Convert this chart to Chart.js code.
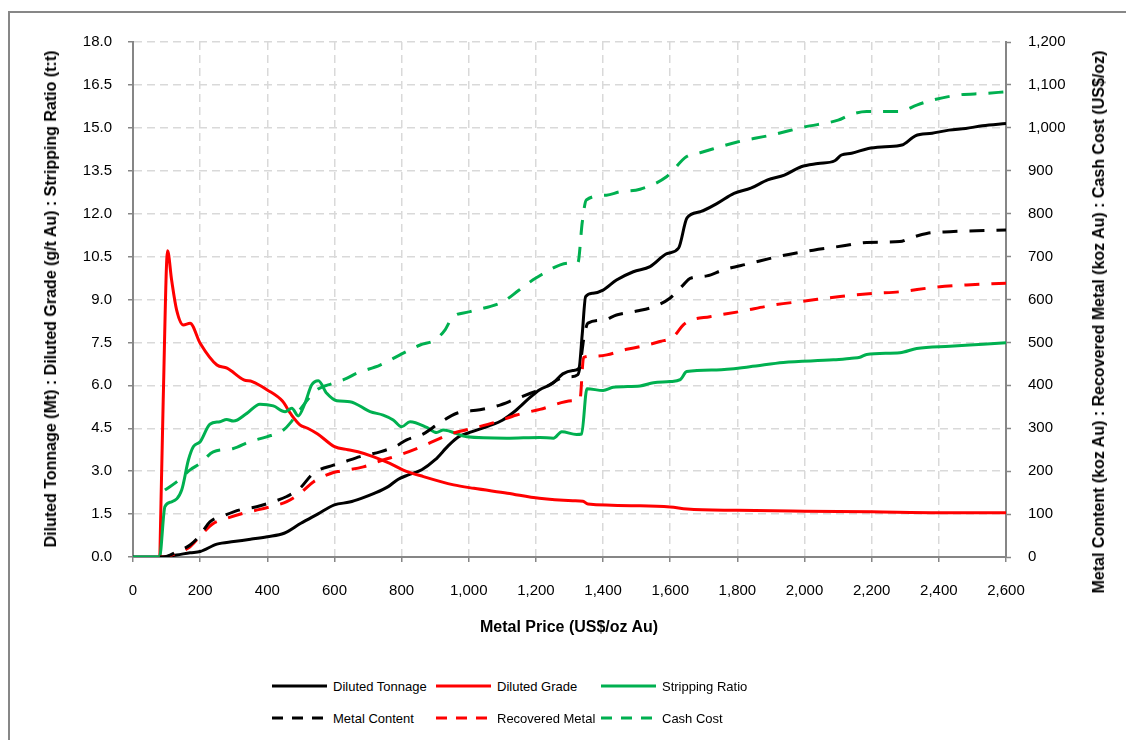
<!DOCTYPE html>
<html>
<head>
<meta charset="utf-8">
<script src="https://cdn.jsdelivr.net/npm/chart.js@4.4.0/dist/chart.umd.min.js"></script>
<style>
  body { margin: 0; background: #fff; width: 1126px; height: 740px; overflow: hidden; position: relative;
         font-family: "Liberation Sans", Arial, sans-serif; }
  #frame { position: absolute; left: 8px; top: 11px; width: 1200px; height: 800px;
           border-left: 2px solid #878787; border-top: 2px solid #878787; }
  #chart { position: absolute; left: 0; top: 0; }
  .atitle { position: absolute; font-weight: bold; color: #000; white-space: nowrap;
            transform: translate(-50%, -50%); }
  .rot { transform: translate(-50%, -50%) rotate(-90deg); }
  .lg { position: absolute; display: flex; align-items: center; height: 16px; font-size: 13px; color: #000; white-space: nowrap; }
  .lg svg { margin-right: 6px; }
</style>
</head>
<body>
<div id="frame"></div>
<canvas id="chart" width="1126" height="645"></canvas>
<div class="atitle rot" style="left:51px;top:299px;font-size:16px;">Diluted Tonnage (Mt) : Diluted Grade (g/t Au) : Stripping Ratio (t:t)</div>
<div class="atitle rot" style="left:1099px;top:322px;font-size:16px;">Metal Content (koz Au) : Recovered Metal (koz Au) : Cash Cost (US$/oz)</div>
<div class="atitle" style="left:569px;top:627px;font-size:16px;">Metal Price (US$/oz Au)</div>
<div id="legend"></div>
<script>
// Diluted Tonnage (Mt) - left axis
const tonPrice = [0, 80, 130, 170, 200, 250, 300, 350, 400, 450, 500, 550, 600, 645, 680, 720, 760, 790, 820, 860,
  900, 940, 970, 1010, 1060, 1100, 1140, 1180, 1210, 1250, 1280, 1310, 1328, 1338, 1348, 1370, 1400, 1440, 1490, 1540,
  1590, 1625, 1650, 1690, 1740, 1790, 1840, 1890, 1940, 1990, 2040, 2090, 2110, 2140, 2190, 2240, 2290, 2330, 2380, 2430,
  2480, 2530, 2600];
const tonVal = [0, 0, 0.07, 0.15, 0.19, 0.45, 0.54, 0.62, 0.71, 0.83, 1.18, 1.5, 1.82, 1.92, 2.05, 2.23, 2.46, 2.72, 2.87, 3.05,
  3.4, 3.9, 4.2, 4.38, 4.58, 4.78, 5.12, 5.55, 5.84, 6.07, 6.4, 6.52, 6.6, 7.8, 9.1, 9.22, 9.33, 9.68, 9.97, 10.15,
  10.6, 10.8, 11.85, 12.07, 12.36, 12.71, 12.89, 13.18, 13.35, 13.64, 13.75, 13.85, 14.05, 14.11, 14.28, 14.34, 14.4, 14.72, 14.81, 14.92,
  14.98, 15.07, 15.15];

// Diluted Grade (g/t Au) - left axis
const gradePrice = [80, 90, 103, 115, 130, 150, 170, 200, 250, 280, 330, 355, 400, 445, 470, 497, 520, 550, 600, 640,
  670, 715, 765, 805, 865, 955, 1015, 1115, 1210, 1310, 1340, 1355, 1510, 1600, 1650, 1800, 2000, 2200, 2400, 2600];
const gradeVal = [0, 5.5, 10.7, 9.68, 8.63, 8.11, 8.17, 7.47, 6.71, 6.6, 6.19, 6.13, 5.84, 5.45, 5.0, 4.62, 4.5, 4.3, 3.86, 3.75,
  3.68, 3.51, 3.27, 3.04, 2.81, 2.52, 2.4, 2.23, 2.05, 1.97, 1.95, 1.85, 1.79, 1.75, 1.68, 1.63, 1.6, 1.58, 1.55, 1.55];

// Stripping Ratio (t:t) - left axis
const stripPrice = [0, 79, 95, 115, 145, 165, 180, 200, 229, 259, 279, 299, 339, 378, 418, 453, 473, 492, 512, 532,
  552, 577, 607, 646, 706, 745, 775, 800, 825, 875, 904, 924, 994, 1113, 1212, 1252, 1277, 1321, 1336, 1352,
  1400, 1430, 1510, 1550, 1599, 1630, 1649, 1738, 1837, 1937, 2086, 2140, 2165, 2185, 2284, 2334, 2433, 2532, 2600];
const stripVal = [0, 0, 1.76, 1.93, 2.34, 3.39, 3.86, 4.03, 4.64, 4.73, 4.81, 4.75, 5.02, 5.34, 5.28, 5.08, 5.2, 4.93, 5.37, 6.01,
  6.16, 5.72, 5.46, 5.43, 5.08, 4.96, 4.79, 4.55, 4.73, 4.53, 4.35, 4.44, 4.2, 4.15, 4.18, 4.15, 4.38, 4.28, 4.3, 5.88,
  5.82, 5.93, 5.98, 6.09, 6.13, 6.2, 6.48, 6.54, 6.65, 6.8, 6.89, 6.95, 6.98, 7.08, 7.14, 7.29, 7.37, 7.44, 7.49];

// Metal Content (koz Au) - right axis
const metalPrice = [80, 90, 130, 170, 200, 229, 269, 319, 368, 418, 458, 497, 537, 597, 616, 676, 736, 785, 815, 865,
  914, 964, 1033, 1093, 1133, 1182, 1232, 1272, 1301, 1325, 1345, 1355, 1401, 1440, 1500, 1550, 1599, 1639, 1659, 1709,
  1758, 1837, 1927, 2026, 2116, 2185, 2284, 2314, 2364, 2433, 2512, 2600];
const metalVal = [0, 0, 12, 28, 51, 82, 96, 110, 117, 129, 141, 160, 195, 214, 218, 234, 245, 259, 273, 287,
  313, 335, 343, 354, 366, 381, 397, 416, 420, 425, 520, 545, 552, 564, 573, 583, 603, 634, 649, 655,
  669, 684, 701, 715, 725, 733, 735, 743, 754, 758, 760, 762];

// Recovered Metal (koz Au) - right axis
const recPrice = [80, 90, 130, 170, 200, 239, 279, 329, 378, 428, 458, 497, 537, 597, 616, 686, 745, 795, 865, 944,
  1013, 1083, 1142, 1212, 1311, 1331, 1342, 1371, 1411, 1470, 1510, 1569, 1609, 1639, 1659, 1718, 1808, 1907, 2006, 2106,
  2205, 2284, 2383, 2483, 2600];
const recVal = [0, 0, 9, 24, 49, 78, 90, 102, 111, 121, 129, 148, 175, 197, 200, 210, 226, 238, 259, 286,
  300, 315, 331, 344, 364, 366, 465, 468, 471, 484, 490, 502, 513, 541, 551, 560, 572, 587, 597, 607,
  614, 618, 628, 634, 638];

// Cash Cost (US$/oz) - right axis
const cashPrice = [95, 130, 170, 200, 239, 299, 348, 398, 448, 468, 497, 547, 597, 636, 666, 736, 805, 855, 900,
  930, 950, 1000, 1100, 1150, 1200, 1300, 1325, 1338, 1350, 1410, 1450, 1510, 1589, 1649, 1689, 1800, 1900, 2000, 2100,
  2135, 2185, 2284, 2334, 2383, 2463, 2532, 2600];
const cashVal = [156, 175, 203, 218, 245, 253, 269, 280, 296, 312, 343, 389, 405, 416, 428, 447, 475, 494, 506,
  530, 557, 571, 594, 622, 650, 685, 686, 780, 832, 843, 851, 857, 886, 933, 942, 967, 983, 1002, 1018,
  1030, 1038, 1038, 1053, 1065, 1077, 1080, 1084];

const FONT = '"Liberation Sans", Arial, sans-serif';
const AXIS = '#868686';
const GRID = '#d9d9d9';
const GREEN = '#00b050';

function pts(xs, ys) {
  return xs.map((x, i) => ({ x: x, y: ys[i] }));
}

function line(label, xs, ys, color, axis, dashed) {
  return {
    label: label,
    data: pts(xs, ys),
    yAxisID: axis,
    borderColor: color,
    backgroundColor: color,
    borderWidth: 3,
    borderDash: dashed ? [15, 12] : [],
    pointRadius: 0,
    cubicInterpolationMode: 'monotone',
    fill: false
  };
}

const datasets = [
  line('Metal Content', metalPrice, metalVal, '#000', 'y1', true),
  line('Recovered Metal', recPrice, recVal, '#ff0000', 'y1', true),
  line('Cash Cost', cashPrice, cashVal, GREEN, 'y1', true),
  line('Stripping Ratio', stripPrice, stripVal, GREEN, 'y', false),
  line('Diluted Grade', gradePrice, gradeVal, '#ff0000', 'y', false),
  line('Diluted Tonnage', tonPrice, tonVal, '#000', 'y', false)
];

const tickFont = { family: FONT, size: 15 };

new Chart(document.getElementById('chart').getContext('2d'), {
  type: 'line',
  data: { datasets: datasets },
  options: {
    responsive: false,
    animation: false,
    devicePixelRatio: 1,
    layout: { padding: { left: 39, right: 15, top: 42, bottom: 0 } },
    plugins: { legend: { display: false }, tooltip: { enabled: false } },
    scales: {
      x: {
        type: 'linear', min: 0, max: 2600,
        ticks: { stepSize: 200, color: '#000', font: tickFont, padding: 20, maxRotation: 0, autoSkip: false,
                 callback: v => v.toLocaleString('en-US') },
        grid: { color: GRID, lineWidth: 1.5, tickLength: 5, tickColor: AXIS, tickWidth: 1.5, tickBorderDash: [] },
        border: { color: AXIS, width: 2, dash: [8, 5] },
        afterFit: s => { s.height = 88; }
      },
      y: {
        position: 'left', min: 0, max: 18,
        ticks: { stepSize: 1.5, color: '#000', font: tickFont, padding: 16, callback: v => v.toFixed(1) },
        grid: { color: GRID, lineWidth: 1.5, tickLength: 5, tickColor: AXIS, tickWidth: 1.5, tickBorderDash: [] },
        border: { color: AXIS, width: 2, dash: [8, 5] },
        afterFit: s => { s.width = 94; }
      },
      y1: {
        position: 'right', min: 0, max: 1200,
        ticks: { stepSize: 100, color: '#000', font: tickFont, padding: 17, callback: v => v.toLocaleString('en-US') },
        grid: { drawOnChartArea: false, tickLength: 5, tickColor: AXIS, tickWidth: 1.5, tickBorderDash: [] },
        border: { color: AXIS, width: 2 },
        afterFit: s => { s.width = 105; }
      }
    }
  }
});

// legend laid out like the original: two rows, three columns
const legendLabels = ['Diluted Tonnage', 'Diluted Grade', 'Stripping Ratio', 'Metal Content', 'Recovered Metal', 'Cash Cost'];
const legendColors = ['#000', '#ff0000', GREEN, '#000', '#ff0000', GREEN];
const legendCols = [272, 436, 601];
const legendRows = [678, 710];
const lg = document.getElementById('legend');
legendLabels.forEach((name, i) => {
  const dashed = i >= 3;
  const el = document.createElement('div');
  el.className = 'lg';
  el.style.left = legendCols[i % 3] + 'px';
  el.style.top = legendRows[Math.floor(i / 3)] + 'px';
  el.innerHTML = '<svg width="55" height="16"><line x1="0" y1="8" x2="55" y2="8" stroke="' + legendColors[i] +
    '" stroke-width="3"' + (dashed ? ' stroke-dasharray="11 9"' : '') + '/></svg><span>' + name + '</span>';
  lg.appendChild(el);
});
</script>
</body>
</html>
